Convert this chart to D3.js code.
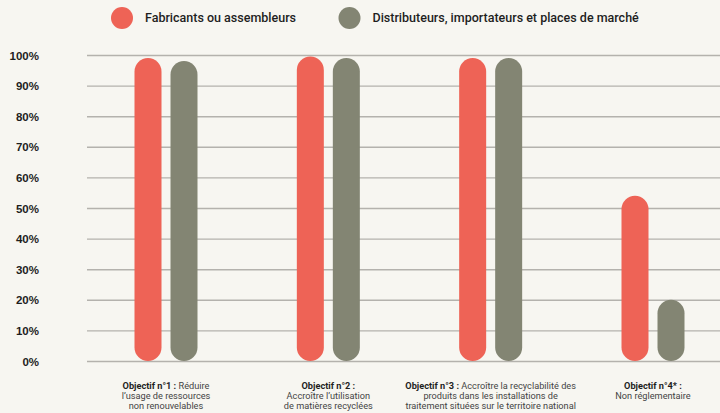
<!DOCTYPE html>
<html>
<head>
<meta charset="utf-8">
<script src="https://cdn.jsdelivr.net/npm/d3@7"></script>
<style>
  body { margin: 0; background: #f7f6f1; }
  svg { display: block; font-family: Roboto, "DejaVu Sans", sans-serif; }
</style>
</head>
<body>
<div id="chart"></div>
<script>
var width = 720,
    height = 413;

// data
var objectifs = ["obj1", "obj2", "obj3", "obj4"];
var fabricants = [99, 99.5, 99, 54];
var distributeurs = [98, 99, 99, 20];
var series = ["Fabricants ou assembleurs", "Distributeurs, importateurs et places de marché"];
var yTicks = [0, 10, 20, 30, 40, 50, 60, 70, 80, 90, 100];
// each label: [bold part, rest of first line, line 2, line 3]
var xLabels = [
  ["Objectif n°1 :", " Réduire", "l’usage de ressources", "non renouvelables"],
  ["Objectif n°2 :", "", "Accroître l’utilisation", "de matières recyclées"],
  ["Objectif n°3 :", " Accroître la recyclabilité des", "produits dans les installations de", "traitement situées sur le territoire national"],
  ["Objectif n°4* :", "", "Non réglementaire", ""]
];

var colors = ["#ee6356", "#838573"];

var svg = d3.select("#chart")
    .append("svg")
    .attr("width", width)
    .attr("height", height);

svg.append("rect")
    .attr("width", width)
    .attr("height", height)
    .attr("fill", "#f7f6f1");

var y = d3.scaleLinear()
    .domain([0, 100])
    .range([361, 55]);

var x = d3.scalePoint()
    .domain(objectifs)
    .range([166, 653]);

var x1 = d3.scalePoint()
    .domain([0, 1])
    .range([-18, 18]);

var barW = 27;

// gridlines + y labels
var yAxis = d3.axisLeft(y)
    .tickValues(yTicks)
    .tickSize(-(width - 87))
    .tickFormat(function(d) { return d + "%"; });

var gy = svg.append("g")
    .attr("transform", "translate(87,0)")
    .call(yAxis);
gy.select(".domain").remove();
gy.selectAll(".tick line")
    .attr("stroke", "#b4b2ad")
    .attr("stroke-width", 1.4);
gy.selectAll(".tick text")
    .attr("x", -48)
    .attr("dy", "0.35em")
    .attr("fill", "#1e1e1e")
    .style("font-size", "11.5px")
    .style("font-weight", "bold");

// bars (pills)
var groups = svg.selectAll(".grp")
    .data(objectifs)
    .enter().append("g")
    .attr("class", "grp")
    .attr("transform", function(d) { return "translate(" + x(d) + ",0)"; });

groups.selectAll("rect")
    .data(function(d, i) { return [fabricants[i], distributeurs[i]]; })
    .enter().append("rect")
    .attr("x", function(d, j) { return x1(j) - barW / 2; })
    .attr("y", function(d) { return y(d); })
    .attr("width", barW)
    .attr("height", function(d) { return y(0) - y(d); })
    .attr("rx", barW / 2)
    .attr("fill", function(d, j) { return colors[j]; });

// x labels
groups.each(function(d, i) {
  var lab = xLabels[i];
  var t = d3.select(this).append("text")
      .attr("text-anchor", "middle")
      .attr("y", 389)
      .attr("fill", "#444")
      .style("font-size", "9.2px");
  t.append("tspan").attr("font-weight", "bold").attr("fill", "#1e1e1e").text(lab[0]);
  t.append("tspan").text(lab[1]);
  [lab[2], lab[3]].forEach(function(l, k) {
    t.append("tspan")
      .attr("x", 0)
      .attr("y", 399 + k * 10)
      .text(l);
  });
});

// legend
var legX = [122, 349.5];
var leg = svg.selectAll(".leg")
    .data(series)
    .enter().append("g")
    .attr("transform", function(d, i) { return "translate(" + legX[i] + ",18)"; });
leg.append("circle")
    .attr("r", 11)
    .attr("fill", function(d, i) { return colors[i]; });
leg.append("text")
    .attr("x", 23)
    .attr("dy", "0.35em")
    .attr("fill", "#1e1e1e")
    .style("font-size", "12.5px")
    .style("font-weight", "500")
    .text(function(d) { return d; });
</script>
</body>
</html>
